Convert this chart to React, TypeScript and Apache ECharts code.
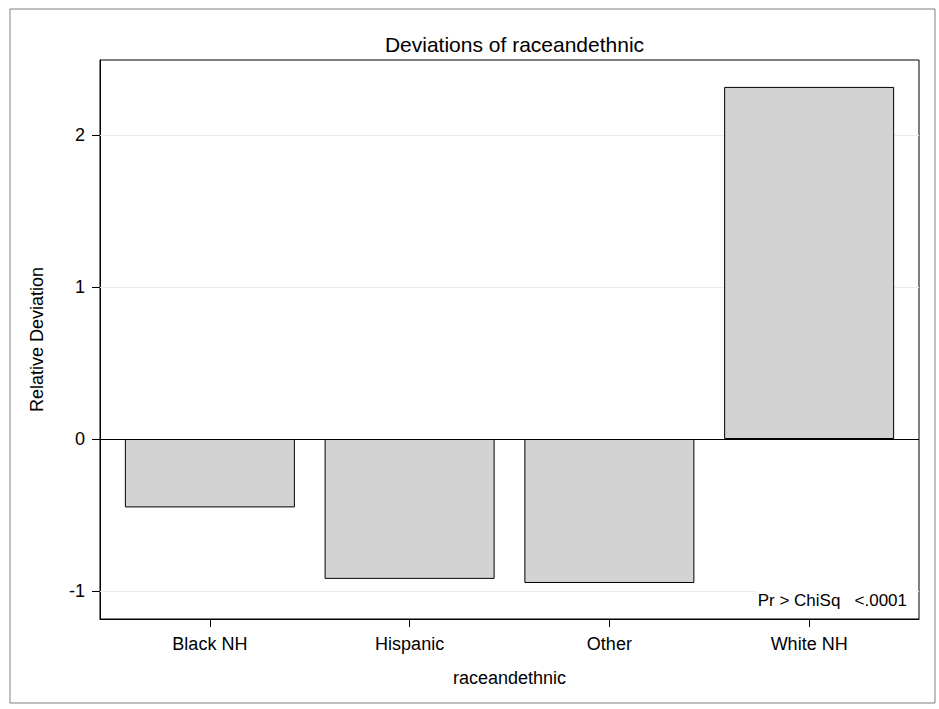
import React, { useEffect, useRef } from "react";
import * as echarts from "echarts";

const categories = ["Black NH", "Hispanic", "Other", "White NH"];
const deviations = [-0.45, -0.92, -0.947, 2.316];
const yTicks = [-1, 0, 1, 2];
const titleText = "Deviations of raceandethnic";
const xName = "raceandethnic";
const yName = "Relative Deviation";
const statText = "Pr > ChiSq   <.0001";

const FONT = "'Liberation Sans', Arial, sans-serif";

export default function App() {
  const ref = useRef<HTMLDivElement>(null);
  useEffect(() => {
    if (!ref.current) return;
    const chart = echarts.init(ref.current, undefined, { renderer: "svg" });
    const catIdx = categories.map((_, i) => i);
    chart.setOption({
      animation: false,
      backgroundColor: "#fff",
      textStyle: { fontFamily: FONT },
      title: {
        text: titleText,
        left: 509.5,
        textAlign: "center",
        top: 29,
        textStyle: { fontFamily: FONT, fontSize: 21, fontWeight: "normal", color: "#000" },
      },
      grid: {
        left: 100,
        top: 60,
        right: 20,
        bottom: 90,
        show: true,
        borderColor: "#000",
        borderWidth: 1,
        backgroundColor: "transparent",
      },
      xAxis: {
        type: "value",
        min: -0.55,
        max: categories.length - 1 + 0.55,
        name: xName,
        nameLocation: "middle",
        nameGap: 50,
        nameTextStyle: { fontFamily: FONT, fontSize: 18, color: "#000" },
        axisLine: { onZero: false, lineStyle: { color: "#000", width: 1 } },
        axisTick: { show: true, length: 8, customValues: catIdx, lineStyle: { color: "#000" } },
        axisLabel: {
          fontFamily: FONT,
          fontSize: 18,
          color: "#000",
          margin: 16,
          customValues: catIdx,
          formatter: (v: number) => categories[Math.round(v)] ?? "",
        },
        splitLine: { show: false },
      },
      yAxis: {
        type: "value",
        min: -1.184,
        max: 2.493,
        name: yName,
        nameLocation: "middle",
        nameGap: 54,
        nameTextStyle: { fontFamily: FONT, fontSize: 18, color: "#000" },
        axisLine: { show: true, onZero: false, lineStyle: { color: "#000", width: 1 } },
        axisTick: { show: true, length: 8, customValues: yTicks, lineStyle: { color: "#000" } },
        axisLabel: {
          fontFamily: FONT,
          fontSize: 18,
          color: "#000",
          margin: 15,
          customValues: yTicks,
          formatter: (v: number) => String(Math.round(v)),
        },
        splitLine: { show: false },
      },
      series: [
        {
          type: "line",
          data: [],
          z: 1,
          silent: true,
          markLine: {
            silent: true,
            symbol: "none",
            label: { show: false },
            lineStyle: { color: "#ebebeb", type: "solid", width: 1 },
            data: yTicks.filter((t) => t !== 0).map((t) => ({ yAxis: t })),
            z: 1,
          },
        },
        {
          type: "bar",
          data: deviations.map((v, i) => [i, v]),
          barWidth: 170,
          itemStyle: { color: "#d3d3d3", borderColor: "#000", borderWidth: 1 },
          markLine: {
            silent: true,
            symbol: "none",
            label: { show: false },
            lineStyle: { color: "#000", type: "solid", width: 1 },
            data: [{ yAxis: 0 }],
          },
          z: 3,
        },
      ],
      graphic: [
        {
          type: "rect",
          shape: { x: 10, y: 9, width: 925, height: 694 },
          style: { fill: "none", stroke: "#808080", lineWidth: 1 },
          silent: true,
        },
        {
          type: "text",
          right: 23,
          top: 589,
          z: 100,
          style: {
            text: statText,
            fontFamily: FONT,
            fontSize: 17,
            fill: "#000",
            backgroundColor: "#fff",
            padding: [3, 9, 2, 2],
          },
        },
      ],
    });
    return () => chart.dispose();
  }, []);
  return (
    <div
      ref={ref}
      style={{ position: "absolute", left: 0, top: 0, width: 939, height: 709 }}
    />
  );
}
